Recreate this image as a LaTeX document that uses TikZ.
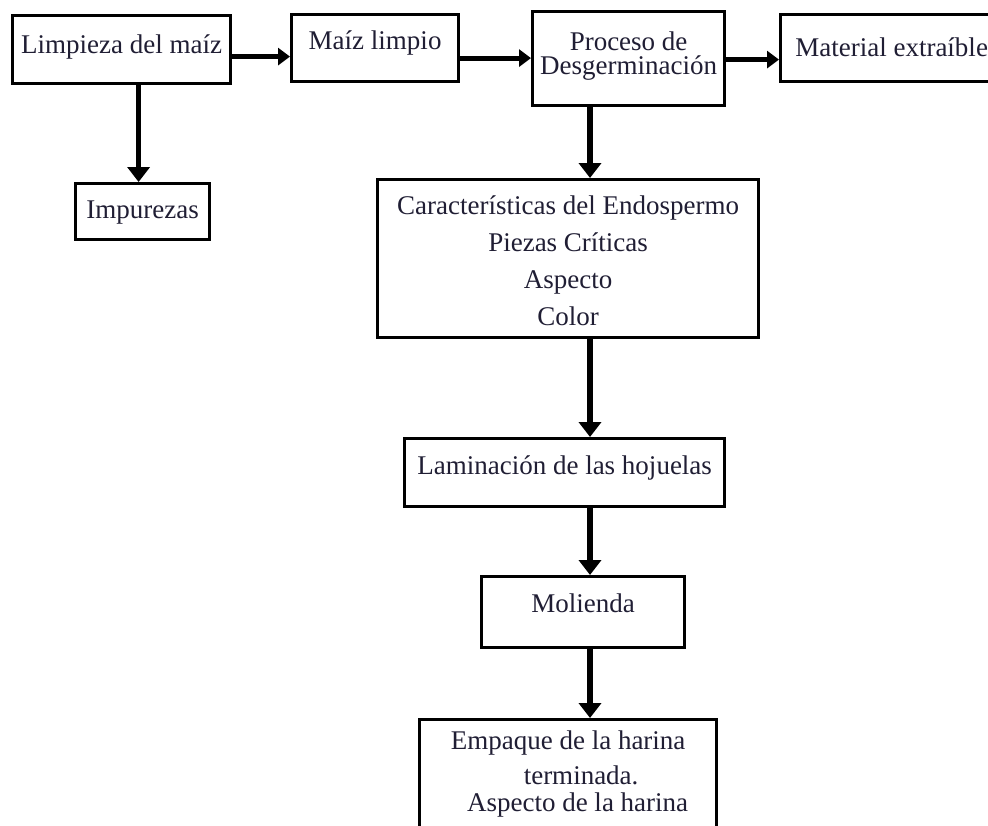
\documentclass[tikz,border=0pt]{standalone}
\usepackage{fontspec}
\setmainfont{Liberation Serif}
\usepackage{tikz}
\usetikzlibrary{arrows.meta}
\definecolor{inkline}{RGB}{0, 0, 0}
\definecolor{inktext}{RGB}{32, 30, 52}
\tikzset{
  font=\fontsize{13.5}{15}\selectfont,
  stepblock/.style={
    rectangle, draw=inkline, line width=1.6pt,
    inner xsep=0pt, inner ysep=0pt, anchor=north west,
    align=center, text=inktext
  },
  flowline/.style={
    draw=inkline, -{Triangle[length=7.5pt, width=11pt]}, line width=2.6pt
  },
  sideline/.style={
    draw=inkline, -{Triangle[length=6pt, width=8.5pt]}, line width=2.5pt
  }
}
\begin{document}
\begin{tikzpicture}[x=0.5pt, y=-0.5pt]
  \path[use as bounding box, fill=white] (0,0) rectangle (988,825);

  % upper row
  \node[stepblock, minimum width=109pt, text height=19pt, text depth=15pt] (lim) at (11,14) {Limpieza del maíz};
  \node[stepblock, minimum width=83.5pt, text height=17.5pt, text depth=16pt] (mlim) at (290,13) {Maíz limpio};
  \node[stepblock, minimum width=96pt, text height=31.5pt, text depth=15.5pt] (proc) at (531,10) {Proceso de\\[-3pt]Desgerminación};
  \node[stepblock, minimum width=111pt, text height=21pt, text depth=12.5pt] (mat) at (779,13) {Material extraíble};
  \node[stepblock, minimum width=67pt, text height=17.5pt, text depth=10.5pt] (imp) at (74,182) {Impurezas};

  % main column
  \node[stepblock, minimum width=190.5pt, text height=73pt, text depth=6pt] (car) at (376,178) {Características del Endospermo\\[3.5pt]Piezas Críticas\\[3.5pt]Aspecto\\[3.5pt]Color};
  \node[stepblock, minimum width=160pt, text height=18pt, text depth=16pt] (lam) at (403,437) {Laminación de las hojuelas};
  \node[stepblock, minimum width=101.5pt, text height=18pt, text depth=17.5pt] (mol) at (480,575) {Molienda};
  \node[stepblock, minimum width=148.5pt, text height=46pt, text depth=20pt] (emp) at (418,718) {Empaque de la harina\\[2.5pt]\hspace*{13pt}terminada.\\[-1.5pt]\hspace*{9.5pt}Aspecto de la harina};

  \coordinate (spine) at (590,0);

  \draw[sideline] ([yshift=-3.5pt]lim.east) -- ([yshift=-3.5pt]lim.east -| mlim.west);
  \draw[sideline] ([yshift=-5pt]mlim.east) -- ([yshift=-5pt]mlim.east -| proc.west);
  \draw[sideline] ([yshift=-0.5pt]proc.east) -- ([yshift=-0.5pt]proc.east -| mat.west);
  \draw[flowline] ([xshift=8.5pt]lim.south) -- ([xshift=8.5pt]lim.south |- imp.north);
  \draw[flowline] (spine |- proc.south) -- (spine |- car.north);
  \draw[flowline] (spine |- car.south) -- (spine |- lam.north);
  \draw[flowline] (spine |- lam.south) -- (spine |- mol.north);
  \draw[flowline] (spine |- mol.south) -- (spine |- emp.north);
\end{tikzpicture}
\end{document}
